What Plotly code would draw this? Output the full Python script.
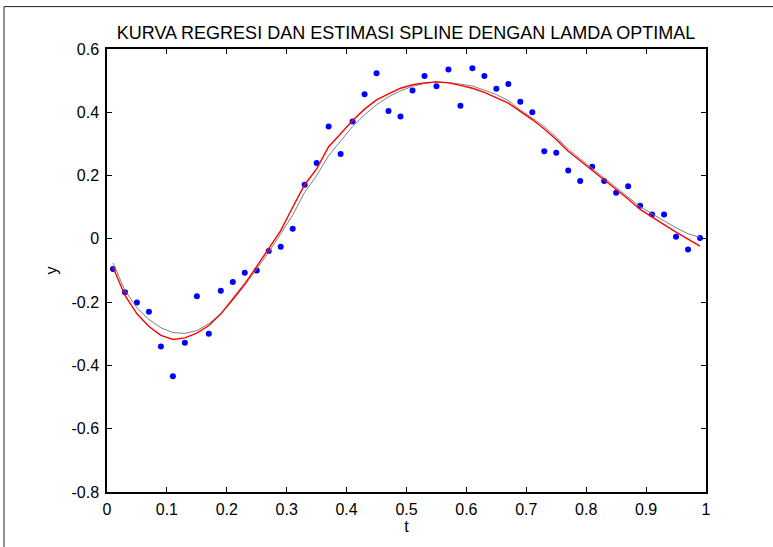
import plotly.graph_objects as go

t = [0.01, 0.03, 0.05, 0.07, 0.09, 0.11, 0.13, 0.15, 0.17, 0.19,
     0.21, 0.23, 0.25, 0.27, 0.29, 0.31, 0.33, 0.35, 0.37, 0.39,
     0.41, 0.43, 0.45, 0.47, 0.49, 0.51, 0.53, 0.55, 0.57, 0.59,
     0.61, 0.63, 0.65, 0.67, 0.69, 0.71, 0.73, 0.75, 0.77, 0.79,
     0.81, 0.83, 0.85, 0.87, 0.89, 0.91, 0.93, 0.95, 0.97, 0.99]

y_obs = [-0.095, -0.169, -0.201, -0.230, -0.340, -0.434, -0.328, -0.181, -0.300, -0.164,
         -0.136, -0.107, -0.100, -0.038, -0.025, 0.032, 0.171, 0.240, 0.355, 0.268,
         0.371, 0.457, 0.523, 0.404, 0.387, 0.469, 0.515, 0.482, 0.535, 0.421,
         0.539, 0.515, 0.474, 0.489, 0.433, 0.400, 0.277, 0.272, 0.216, 0.183,
         0.228, 0.183, 0.146, 0.166, 0.105, 0.077, 0.077, 0.007, -0.034, 0.003]

y_true = [-0.076, -0.163, -0.218, -0.255, -0.281, -0.296, -0.299, -0.290, -0.268, -0.237,
          -0.195, -0.147, -0.095, -0.042, 0.016, 0.075, 0.147, 0.200, 0.263, 0.310,
          0.355, 0.392, 0.424, 0.449, 0.468, 0.482, 0.491, 0.496, 0.494, 0.489,
          0.483, 0.470, 0.456, 0.437, 0.407, 0.382, 0.355, 0.321, 0.284, 0.253,
          0.223, 0.193, 0.163, 0.134, 0.102, 0.079, 0.056, 0.035, 0.016, 0.005]

y_spline = [-0.090, -0.179, -0.237, -0.277, -0.305, -0.318, -0.313, -0.298, -0.274, -0.237,
            -0.190, -0.142, -0.087, -0.032, 0.026, 0.100, 0.171, 0.221, 0.291, 0.332,
            0.374, 0.410, 0.439, 0.458, 0.476, 0.487, 0.493, 0.496, 0.493, 0.485,
            0.476, 0.463, 0.447, 0.429, 0.403, 0.377, 0.347, 0.314, 0.277, 0.247,
            0.218, 0.186, 0.155, 0.126, 0.093, 0.068, 0.045, 0.021, -0.002, -0.023]

x_ticks = [0, 0.1, 0.2, 0.3, 0.4, 0.5, 0.6, 0.7, 0.8, 0.9, 1]
x_ticktext = ["0", "0.1", "0.2", "0.3", "0.4", "0.5", "0.6", "0.7", "0.8", "0.9", "1"]
y_ticks = [-0.8, -0.6, -0.4, -0.2, 0, 0.2, 0.4, 0.6]
y_ticktext = ["-0.8", "-0.6", "-0.4", "-0.2", "0", "0.2", "0.4", "0.6"]

FONT = "Liberation Sans, Arial, sans-serif"

fig = go.Figure()
fig.add_trace(go.Scatter(x=t, y=y_obs, mode="markers",
                         marker=dict(color="#0000ff", size=6, line=dict(width=0)),
                         showlegend=False))
fig.add_trace(go.Scatter(x=t, y=y_true, mode="lines",
                         line=dict(color="#808080", width=1),
                         showlegend=False))
fig.add_trace(go.Scatter(x=t, y=y_spline, mode="lines",
                         line=dict(color="#ff0000", width=1.4),
                         showlegend=False))

axis_common = dict(showline=True, linecolor="black", linewidth=1.5, mirror="ticks",
                   ticks="inside", ticklen=5, tickcolor="black", tickwidth=1,
                   showgrid=False, zeroline=False,
                   tickfont=dict(family=FONT, size=16, color="black"))

fig.update_layout(
    width=773, height=547,
    margin=dict(l=107, r=67, t=49, b=55),
    paper_bgcolor="white", plot_bgcolor="white",
    font=dict(family=FONT, size=16, color="black"),
    title=dict(text="KURVA REGRESI DAN ESTIMASI SPLINE DENGAN LAMDA OPTIMAL",
               x=(406 - 107) / 599, xref="paper", xanchor="center",
               y=1 - 33 / 547, yanchor="middle",
               font=dict(family=FONT, size=18, color="black")),
    xaxis=dict(range=[0, 1], tickvals=x_ticks, ticktext=x_ticktext,
               ticklabelstandoff=2,
               title=dict(text="t", standoff=4, font=dict(family=FONT, size=16)),
               **axis_common),
    yaxis=dict(range=[-0.8, 0.6], tickvals=y_ticks, ticktext=y_ticktext,
               ticklabelstandoff=3,
               title=dict(text="y", standoff=10, font=dict(family=FONT, size=16)),
               **axis_common),
    shapes=[
        dict(type="line", xref="paper", yref="paper",
             x0=(4 - 107) / 599, x1=(4 - 107) / 599,
             y0=(491.6 - 6) / 443.2, y1=(491.6 - 560) / 443.2,
             line=dict(color="#222222", width=1)),
        dict(type="line", xref="paper", yref="paper",
             x0=(4 - 107) / 599, x1=(790 - 107) / 599,
             y0=(491.6 - 6) / 443.2, y1=(491.6 - 6) / 443.2,
             line=dict(color="#222222", width=1)),
    ],
)

fig.write_html("out.html")
